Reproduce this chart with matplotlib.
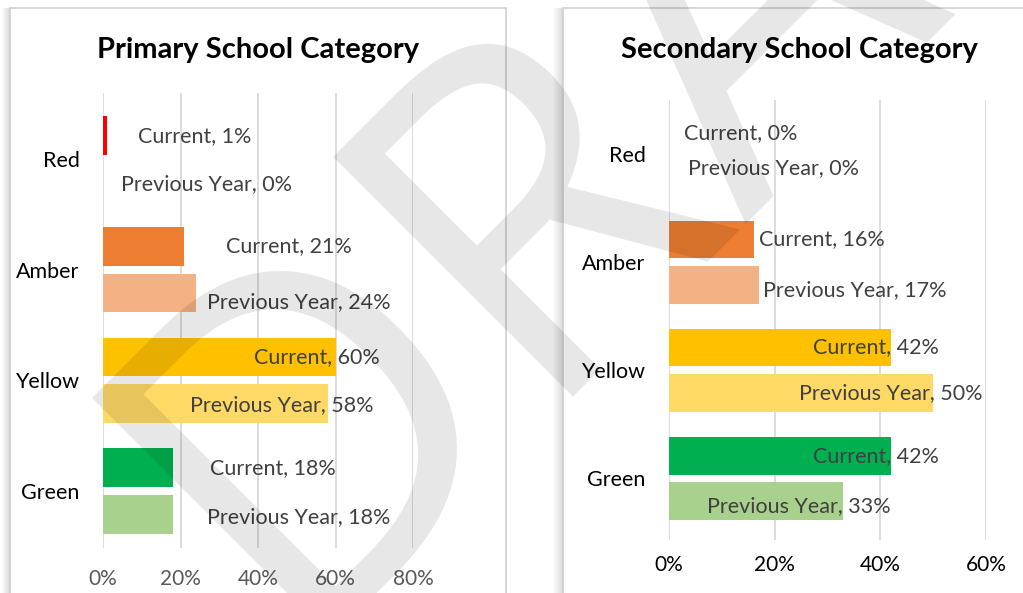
import numpy as np
import matplotlib
matplotlib.use("Agg")
import matplotlib.pyplot as plt
from matplotlib.patches import Rectangle, PathPatch
from matplotlib.textpath import TextPath
from matplotlib.font_manager import FontProperties
from matplotlib.transforms import Affine2D

W, H = 1023, 593

categories = ["Red", "Amber", "Yellow", "Green"]
primary_current = [1, 21, 60, 18]
primary_previous = [0, 24, 58, 18]
secondary_current = [0, 16, 42, 42]
secondary_previous = [0, 17, 50, 33]

primary_ticks = [0, 20, 40, 60, 80]
secondary_ticks = [0, 20, 40, 60]

cur_colors = ["#FF0000", "#ED7D31", "#FFC000", "#00B050"]
prev_colors = ["#FF0000", "#F4B183", "#FFD966", "#A9D18E"]

# where each data label starts (x, in %) and how far it sits off its bar (y)
primary_lab_x = [9.0, 4.6, 31.7, 26.8, 39.0, 22.5, 27.6, 26.8]
primary_lab_dy = [0.0, 0.02, 0.0, 0.08, 0.0, 0.01, 0.0, 0.03]
secondary_lab_x = [2.8, 3.6, 17.1, 17.8, 27.3, 24.7, 27.2, 7.2]
secondary_lab_dy = [0.02, -0.08, 0.0, 0.05, 0.0, 0.0, 0.0, 0.05]

FONT = "Lato"
fig = plt.figure(figsize=(W / 100, H / 100), dpi=100)
fig.patch.set_facecolor("white")

px = Affine2D().scale(1 / W, 1 / H) + fig.transFigure


def frame(x0, x1, shadow):
    # chart border with a soft shadow down the left edge
    for i in range(shadow):
        a = 0.28 * (i + 1) / shadow
        fig.add_artist(Rectangle((x0 - shadow + i, 0), 1, H - 8, transform=px,
                                 facecolor="black", alpha=a * 0.5, lw=0, zorder=-6))
    fig.add_artist(Rectangle((x0, -10), x1 - x0, H - 8 + 10, transform=px,
                             facecolor="white", edgecolor="#d0d0d0", lw=1.2, zorder=-5))


def panel(rect, xmax, ticks, cur, prev, lab_x, lab_dy, ylim, title, title_x,
          tick_color, tick_pad):
    ax = fig.add_axes(rect)
    ax.set_facecolor("none")
    y = np.arange(len(categories))
    off = 0.21
    h = 0.35
    ax.barh(y - off, cur, height=h, color=cur_colors, zorder=2)
    ax.barh(y + off, prev, height=h, color=prev_colors, zorder=2)
    ax.set_xlim(0, xmax)
    ax.set_ylim(*ylim)
    ax.set_xticks(ticks)
    ax.set_xticklabels([f"{t}%" for t in ticks], fontsize=15, color=tick_color, family=FONT)
    ax.set_yticks(y)
    ax.set_yticklabels(categories, fontsize=15.5, color="black", family=FONT)
    ax.tick_params(length=0)
    ax.tick_params(axis="x", pad=tick_pad)
    ax.tick_params(axis="y", pad=17)
    ax.grid(axis="x", color="#d9d9d9", lw=1.3, zorder=0)
    for s in ax.spines.values():
        s.set_visible(False)
    for i in range(len(categories)):
        ax.text(lab_x[2 * i], i - off + lab_dy[2 * i], f"Current, {cur[i]}%",
                va="center", ha="left", fontsize=15.5, color="#404040",
                family=FONT, clip_on=False, zorder=3)
        ax.text(lab_x[2 * i + 1], i + off + lab_dy[2 * i + 1], f"Previous Year, {prev[i]}%",
                va="center", ha="left", fontsize=15.5, color="#404040",
                family=FONT, clip_on=False, zorder=3)
    fig.text(title_x / W, 1 - 50 / H, title, ha="center", va="center",
             fontsize=21, fontweight="bold", family=FONT)
    return ax


frame(10, 506, 8)
frame(563, W + 20, 10)

panel([103 / W, 45 / H, 310 / W, 455 / H], 80, primary_ticks,
      primary_current, primary_previous, primary_lab_x, primary_lab_dy,
      (3.515, -0.596), "Primary School Category", 258, "#595959", 15)
panel([669 / W, 53 / H, 317 / W, 440 / H], 60, secondary_ticks,
      secondary_current, secondary_previous, secondary_lab_x, secondary_lab_dy,
      (3.57, -0.5), "Secondary School Category", 799, "black", 10.5)

# watermark across both charts: "DRAFT" at 45 degrees,
# with the top-left corner of the D pinned in pixel space
wm_font = FontProperties(family="Open Sans")
em_x, em_y = 470, 475
d_box = TextPath((0, 0), "D", size=1, prop=wm_font).get_extents()
shape = Affine2D().scale(em_x, em_y).rotate_deg(45)
cx, cy = shape.transform((d_box.x0, d_box.y1))
tp = TextPath((0, 0), "DRAFT", size=1, prop=wm_font)
wm = shape + Affine2D().translate(92 - cx, (H - 398) - cy)
fig.add_artist(PathPatch(tp, transform=wm + px, facecolor="black", alpha=0.095,
                         lw=0, zorder=10))

fig.savefig("out.png", dpi=100)
